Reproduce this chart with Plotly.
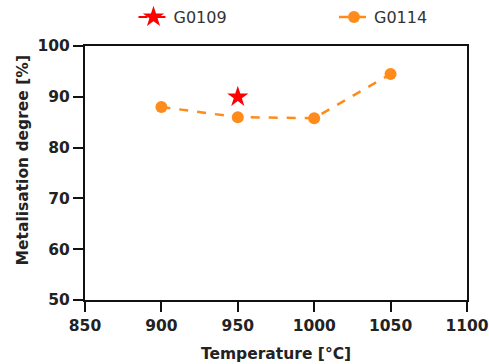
import plotly.graph_objects as go

temps_g0114 = [900, 950, 1000, 1050]
metal_g0114 = [88.0, 86.0, 85.8, 94.5]
temps_g0109 = [950]
metal_g0109 = [90.0]

x_ticks = [850, 900, 950, 1000, 1050, 1100]
y_ticks = [50, 60, 70, 80, 90, 100]

FONT = "DejaVu Sans"

fig = go.Figure()
fig.add_trace(go.Scatter(
    x=temps_g0109, y=metal_g0109, name="G0109", mode="markers+lines",
    marker=dict(symbol="star", size=16, color="#FF0000"),
    line=dict(color="#FF0000", dash="dash", width=2),
    legend="legend", showlegend=True,
))
fig.add_trace(go.Scatter(
    x=temps_g0114, y=metal_g0114, name="G0114", mode="markers+lines",
    marker=dict(symbol="circle", size=12, color="#FF8C1A"),
    line=dict(color="#FF8C1A", dash="dash", width=2.5),
    legend="legend2", showlegend=True,
))

tickfont = dict(family=FONT, size=15.5, color="#222222")
titlefont = dict(family=FONT, size=15.5, color="#222222")
legfont = dict(family=FONT, size=16, color="#333333")

fig.update_layout(
    width=489, height=364,
    margin=dict(l=85, r=22, t=46, b=64, autoexpand=False),
    paper_bgcolor="white", plot_bgcolor="white",
    showlegend=True,
    legend=dict(xref="container", yref="container", x=0.273, y=0.953,
                xanchor="left", yanchor="middle", font=legfont,
                bgcolor="rgba(0,0,0,0)"),
    legend2=dict(xref="container", yref="container", x=0.683, y=0.953,
                 xanchor="left", yanchor="middle", font=legfont,
                 bgcolor="rgba(0,0,0,0)"),
    xaxis=dict(range=[850, 1100.01], tickvals=x_ticks,
               ticktext=[f"<b>{v}</b>" for v in x_ticks],
               ticklabeloverflow="allow",
               showgrid=False, zeroline=False,
               showline=True, linecolor="#111111", linewidth=2, mirror=True,
               ticks="outside", ticklen=10, tickwidth=2, tickcolor="#111111",
               tickfont=tickfont,
               title=dict(text="<b>Temperature [°C]</b>", font=titlefont)),
    yaxis=dict(range=[50, 100.01], tickvals=y_ticks,
               ticktext=[f"<b>{v}</b>" for v in y_ticks],
               showgrid=False, zeroline=False,
               showline=True, linecolor="#111111", linewidth=2, mirror=True,
               ticks="outside", ticklen=10, tickwidth=2, tickcolor="#111111",
               tickfont=tickfont),
    annotations=[dict(text="<b>Metalisation degree [%]</b>", font=titlefont,
                      xref="paper", yref="paper", x=-0.162, y=0.55,
                      xanchor="center", yanchor="middle", textangle=-90,
                      showarrow=False)],
)
fig.write_html("out.html")
